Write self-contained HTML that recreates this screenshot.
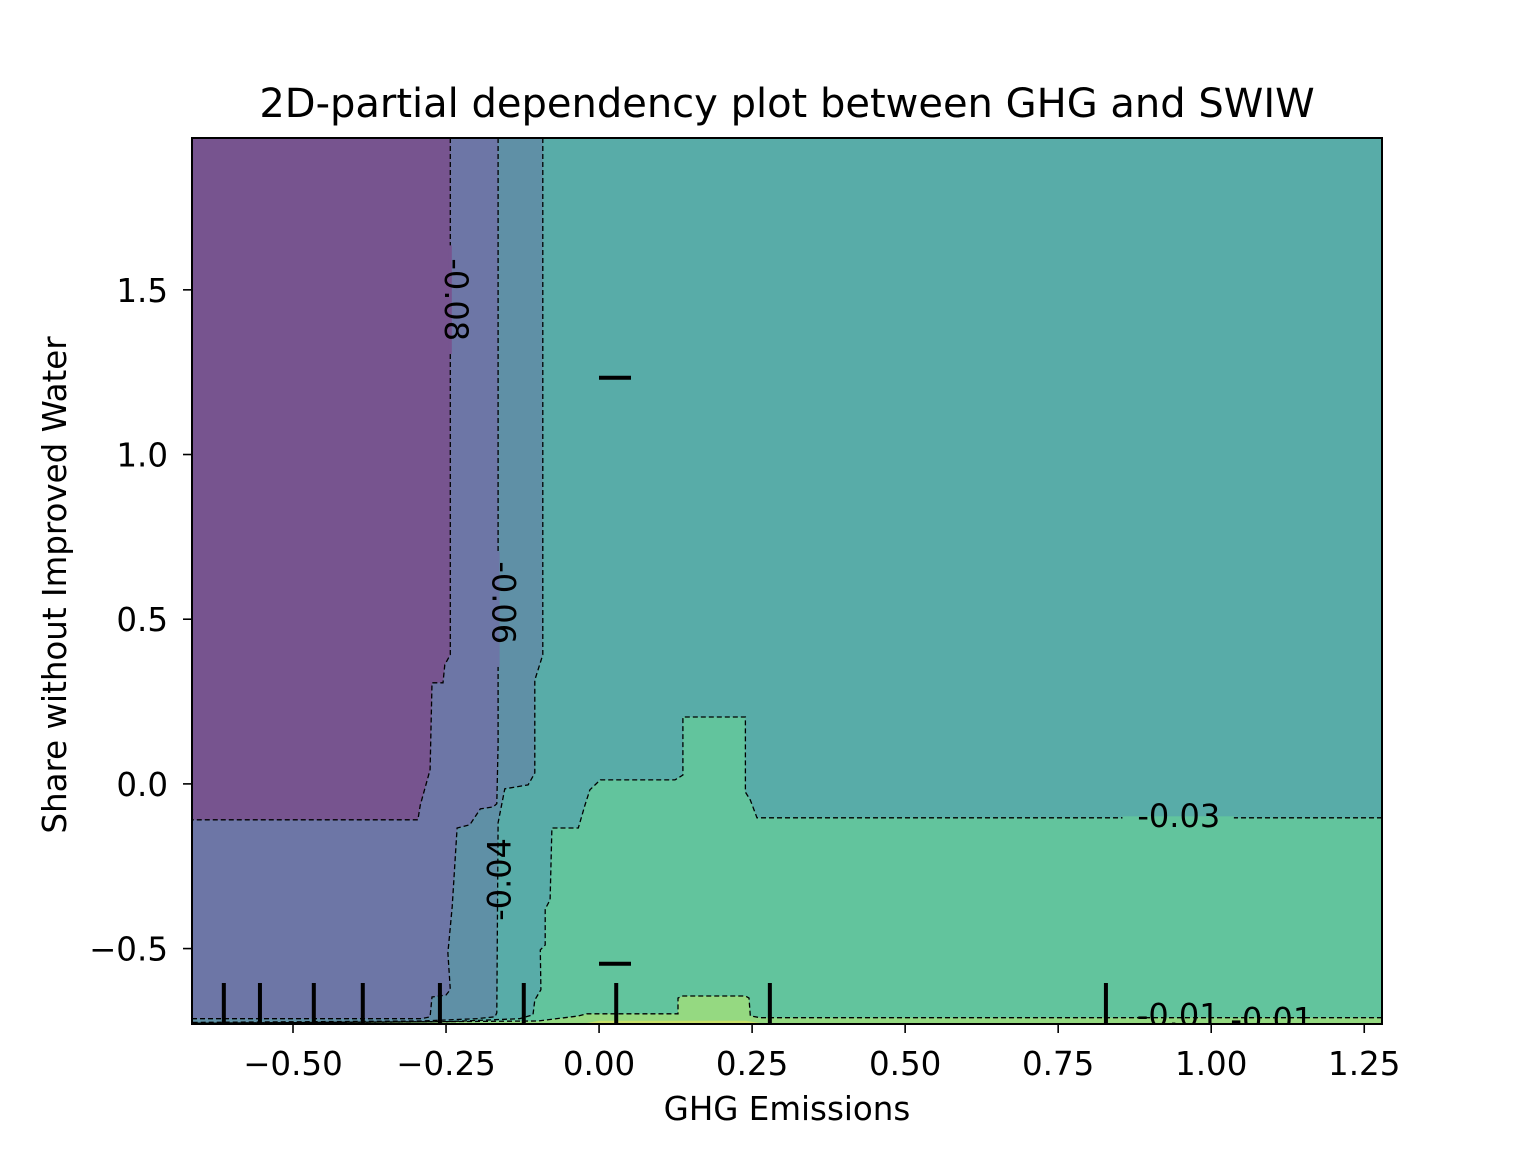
<!DOCTYPE html>
<html><head><meta charset="utf-8"><style>
html,body{margin:0;padding:0;background:#fff;width:1536px;height:1152px;overflow:hidden}
svg text{font-family:"DejaVu Sans","Liberation Sans",sans-serif;fill:#000}
</style></head><body>
<svg id="chart" width="1536" height="1152" xmlns="http://www.w3.org/2000/svg">
<defs><clipPath id="plotclip"><rect x="192" y="138" width="1190" height="886"/></clipPath></defs>
<text x="787" y="117" font-size="40" text-anchor="middle">2D-partial dependency plot between GHG and SWIW</text>
<text x="787" y="1120" font-size="32.5" text-anchor="middle">GHG Emissions</text>
<text transform="translate(66,585) rotate(-90)" font-size="32.5" text-anchor="middle">Share without Improved Water</text>
<g id="plot" clip-path="url(#plotclip)"></g>
<g id="axes"></g>
</svg>
<script>
// axis domain
const xDomain = [-0.665, 1.279];
const yDomain = [-0.729, 1.961];
const xTicks = [-0.5, -0.25, 0.0, 0.25, 0.5, 0.75, 1.0, 1.25];
const xTickLabels = ["\u22120.50","\u22120.25","0.00","0.25","0.50","0.75","1.00","1.25"];
const yTicks = [-0.5, 0.0, 0.5, 1.0, 1.5];
const yTickLabels = ["\u22120.5","0.0","0.5","1.0","1.5"];
// contour boundaries (data coords)
const b1 = [[-0.243,1.961],[-0.243,0.392],[-0.252,0.362],[-0.255,0.307],[-0.273,0.307],[-0.276,0.043],[-0.292,-0.064],[-0.296,-0.109],[-0.665,-0.109]];
const b2 = [[-0.165,1.961],[-0.165,0.12],[-0.167,-0.06],[-0.173,-0.07],[-0.194,-0.076],[-0.211,-0.124],[-0.232,-0.134],[-0.240,-0.373],[-0.247,-0.513],[-0.243,-0.625],[-0.250,-0.641],[-0.273,-0.647],[-0.276,-0.707],[-0.290,-0.713],[-0.665,-0.713]];
const b3 = [[-0.092,1.961],[-0.092,0.392],[-0.105,0.315],[-0.105,0.033],[-0.116,-0.003],[-0.154,-0.015],[-0.165,-0.118],[-0.167,-0.695],[-0.170,-0.707],[-0.200,-0.713],[-0.290,-0.720],[-0.665,-0.724]];
const b4 = [[1.279,-0.103],[0.258,-0.103],[0.247,-0.049],[0.239,-0.025],[0.239,0.203],[0.137,0.203],[0.137,0.027],[0.124,0.012],[0.002,0.012],[-0.015,-0.018],[-0.023,-0.064],[-0.034,-0.134],[-0.077,-0.134],[-0.080,-0.352],[-0.088,-0.38],[-0.088,-0.489],[-0.096,-0.504],[-0.095,-0.625],[-0.105,-0.656],[-0.108,-0.701],[-0.130,-0.713],[-0.170,-0.716],[-0.250,-0.722],[-0.665,-0.727]];
const b5 = [[1.279,-0.710],[0.263,-0.710],[0.247,-0.704],[0.245,-0.650],[0.239,-0.644],[0.137,-0.644],[0.129,-0.650],[0.129,-0.698],[-0.02,-0.698],[-0.035,-0.705],[-0.10,-0.720],[-0.665,-0.727]];
const b6 = [[0.263,-0.726],[0.24,-0.719],[0.0,-0.719],[-0.02,-0.726]];
const rugX = [-0.613,-0.554,-0.466,-0.386,-0.260,-0.123,0.028,0.279,0.828];
const rugY = [1.233,-0.546];
const contourLabels = [["-0.08",-0.234,1.47,90],["-0.06",-0.156,0.55,90],["-0.04",-0.163,-0.29,-90],["-0.03",0.947,-0.098,0],["-0.01",0.946,-0.703,0],["-0.01",1.099,-0.716,0]];
// gaps in contour lines behind labels
const labelGaps = [[-0.243,1.47,0.165,'v','#77548f'],[-0.165,0.53,0.175,'v','#6d76a6'],[0.946,-0.103,0.091,'h','#62c49d']];

const X0=192,X1=1382,Y0=1024,Y1=138;
const sx=v=>X0+(v-xDomain[0])/(xDomain[1]-xDomain[0])*(X1-X0);
const sy=v=>Y0-(v-yDomain[0])/(yDomain[1]-yDomain[0])*(Y0-Y1);
const NS="http://www.w3.org/2000/svg";
const plot=document.getElementById('plot'), axes=document.getElementById('axes');
function mk(tag,attrs,parent){const e=document.createElementNS(NS,tag);for(const k in attrs)e.setAttribute(k,attrs[k]);parent.appendChild(e);return e;}
const pts=a=>a.map(p=>sx(p[0]).toFixed(1)+','+sy(p[1]).toFixed(1)).join(' ');
const L=xDomain[0],R=xDomain[1],B=yDomain[0],T=yDomain[1];

let bg=mk('rect',{x:X0,y:Y1,width:X1-X0,height:Y0-Y1,fill:'#58aca8'},plot);


function region(arr,closing,fill,name){
  const p=mk('polygon',{points:pts(arr.concat(closing)),fill:fill},plot);
  
  
}
region(b3,[[L,T]],'#5f90a6','level-band3');
region(b2,[[L,T]],'#6d76a6','level-band2');
region(b1,[[L,T]],'#77548f','level-purple');
region(b4,[[L,B],[R,B]],'#62c49d','level-green');
region(b5,[[L,B],[R,B]],'#95d981','level-lightgreen');
region(b6,[],'#c8e06a','level-yellow');

function line(arr,name){
  const p=mk('polyline',{points:pts(arr),fill:'none',stroke:'#000','stroke-width':1.3,'stroke-dasharray':'5,3'},plot);
  
  
}
line(b1,'contour-line-008');line(b2,'contour-line-006');line(b3,'contour-line-004');line(b4,'contour-line-003');line(b5,'contour-line-001');

labelGaps.forEach(g=>{
  let r;
  if(g[3]==='v'){const x=sx(g[0]);r=mk('rect',{x:x-1.5,y:sy(g[1]+g[2]),width:3,height:sy(g[1]-g[2])-sy(g[1]+g[2]),fill:g[4]},plot);}
  else {const y=sy(g[1]);r=mk('rect',{x:sx(g[0]-g[2]),y:y-1.5,width:sx(g[0]+g[2])-sx(g[0]-g[2]),height:3,fill:g[4]},plot);}
  
  
});

contourLabels.forEach((c,i)=>{
  const x=sx(c[1]),y=sy(c[2]);
  const t=mk('text',{x:0,y:0,'font-size':32,'text-anchor':'middle','dominant-baseline':'central',transform:`translate(${x},${y}) rotate(${c[3]})`},plot);
  t.textContent=c[0];
  
  
});

rugX.forEach((v,i)=>{
  const r=mk('line',{x1:sx(v),x2:sx(v),y1:983,y2:1024,stroke:'#000','stroke-width':4},plot);
  
  
});
rugY.forEach((v,i)=>{
  const r=mk('line',{x1:599,x2:631,y1:sy(v),y2:sy(v),stroke:'#000','stroke-width':4},plot);
  
  
});

const frame=mk('rect',{x:X0,y:Y1,width:X1-X0,height:Y0-Y1,fill:'none',stroke:'#000','stroke-width':2},axes);


xTicks.forEach((v,i)=>{
  const x=sx(v);
  const tk=mk('line',{x1:x,x2:x,y1:Y0,y2:Y0+9,stroke:'#000','stroke-width':1.6},axes);
  
  
  const t=mk('text',{x:x,y:1075,'font-size':32.5,'text-anchor':'middle'},axes);
  t.textContent=xTickLabels[i];
  
  
});
yTicks.forEach((v,i)=>{
  const y=sy(v);
  const tk=mk('line',{x1:X0-9,x2:X0,y1:y,y2:y,stroke:'#000','stroke-width':1.6},axes);
  
  
  const t=mk('text',{x:168,y:y+12,'font-size':32.5,'text-anchor':'end'},axes);
  t.textContent=yTickLabels[i];
  
  
});
</script>
</body></html>
